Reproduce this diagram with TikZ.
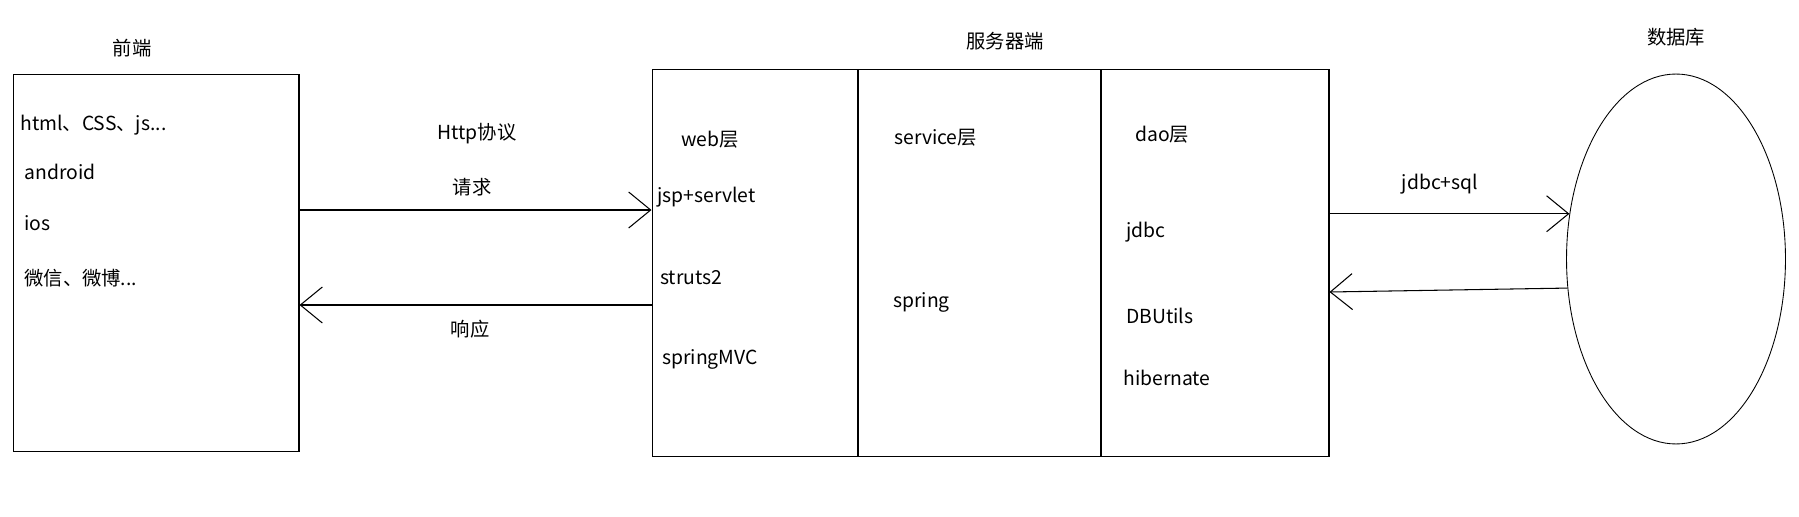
\documentclass[tikz,border=0pt]{standalone}
\usepackage{fontspec}
\setmainfont{Noto Sans CJK SC}
\usepackage{tikz}
\usetikzlibrary{arrows.meta,positioning,shapes.geometric,calc}

\tikzset{
  layerbox/.style={draw,line width=0.6pt,rectangle,inner sep=0pt},
  itemtext/.style={anchor=west,inner sep=0pt},
  headtext/.style={inner sep=0pt}
}

\begin{document}
\begin{tikzpicture}[x=0.02cm,y=-0.02cm,>={Straight Barb[length=4.4mm,width=7.2mm]},
  font=\fontsize{11}{13}\selectfont]
  \useasboundingbox (0,0) rectangle (1799,517);
  % boxes
  \node[layerbox,minimum width=5.72cm,minimum height=7.56cm] (front) at (156,263) {};
  \node[layerbox,minimum width=4.12cm,minimum height=7.76cm] (web) at (755,263) {};
  \node[layerbox,minimum width=4.86cm,minimum height=7.76cm] (service) at (979.5,263) {};
  \node[layerbox,minimum width=4.56cm,minimum height=7.76cm] (dao) at (1215,263) {};
  \node[draw,line width=0.5pt,ellipse,inner sep=0pt,minimum width=4.38cm,minimum height=7.4cm] (db) at (1676,259) {};
  % headings
  \node[headtext] (frontTitle) at (132,48) {前端};
  \node[headtext] (serverTitle) at (1005,41) {服务器端};
  \node[headtext] (dbTitle) at (1676,37) {数据库};
  % front end
  \node[itemtext] (html) at (20,125) {html、CSS、js...};
  \node[itemtext] (android) at (24,172) {android};
  \node[itemtext] (ios) at (24,223) {ios};
  \node[itemtext] (weixin) at (24,278) {微信、微博...};
  % web layer
  \node[itemtext] (webHead) at (681,140) {web层};
  \node[itemtext] (jsp) at (657,197) {jsp+servlet};
  \node[itemtext] (struts) at (660,278) {struts2};
  \node[itemtext] (mvc) at (662,359) {springMVC};
  % service layer
  \node[itemtext] (serviceHead) at (894,138) {service层};
  \node[itemtext] (spring) at (893,302) {spring};
  % dao layer
  \node[itemtext] (daoHead) at (1135,135) {dao层};
  \node[itemtext] (jdbc) at (1126,232) {jdbc};
  \node[itemtext] (dbutils) at (1126,316) {DBUtils};
  \node[itemtext] (hibernate) at (1123,378) {hibernate};
  % connectors
  \coordinate (req) at (0,210);
  \coordinate (resp) at (0,305);
  \coordinate (back) at (0,292);
  \draw[->,line width=0.6pt] (front.east |- req) -- (web.west |- req);
  \draw[->,line width=0.6pt] (web.west |- resp) -- (front.east |- resp);
  \draw[->,line width=0.6pt] (dao.east |- db.157) -- (db.157);
  \draw[->,line width=0.6pt] (db.195) -- (dao.east |- back);
  \node[headtext] (http) at (477,134) {Http协议};
  \node[headtext] (reqText) at (472,187) {请求};
  \node[headtext] (respText) at (470,329) {响应};
  \node[headtext] (sql) at (1440,184) {jdbc+sql};
\end{tikzpicture}
\end{document}
